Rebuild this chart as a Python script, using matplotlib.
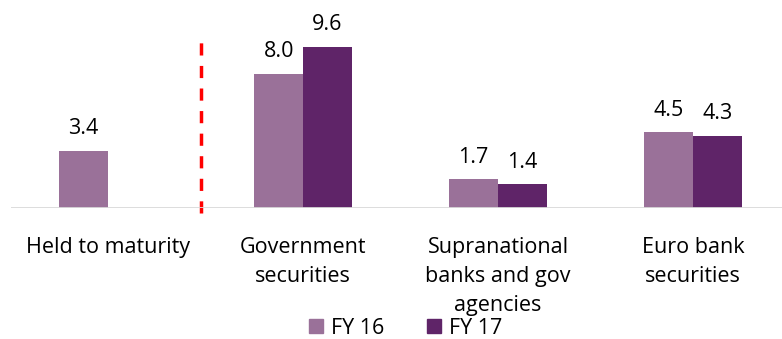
import numpy as np
import matplotlib.pyplot as plt
from matplotlib.lines import Line2D

plt.rcParams['font.family'] = ['Open Sans', 'DejaVu Sans']

categories = ['Held to maturity', 'Government\nsecurities',
              'Supranational\nbanks and gov\nagencies', 'Euro bank\nsecurities']
fy16 = [3.4, 8.0, 1.7, 4.5]
fy17 = [np.nan, 9.6, 1.4, 4.3]
series = ['FY 16', 'FY 17']
colors = ['#9A7199', '#5F2468']

fig = plt.figure(figsize=(7.82, 3.39), dpi=100)
ax = fig.add_axes([10.5 / 782, 1 - 208 / 339, 1 - 10.5 / 782, 208 / 339])

x = np.arange(len(categories))
w = 0.25
for vals, off, c in [(fy16, -w / 2, colors[0]), (fy17, w / 2, colors[1])]:
    for xi, v in zip(x, vals):
        if np.isnan(v):
            continue
        ax.bar(xi + off, v, w, color=c, linewidth=0)
        ax.annotate(f'{v:.1f}', (xi + off, v), xytext=(0, 8.5), textcoords='offset points',
                    ha='center', va='bottom', fontsize=15.5)

ax.set_xlim(-0.5, 3.456)
ax.set_ylim(0, 12.38)

# separator between held-to-maturity and the rest
ax.plot([0.477, 0.477], [-0.3, 10.1], color='#FF0000', lw=2.5,
        linestyle=(0, (3.5, 3)), clip_on=False)

ax.axhline(0, color='#D9D9D9', lw=2)
for s in ax.spines.values():
    s.set_visible(False)
ax.set_yticks([])
ax.set_xticks(x)
ax.set_xticklabels(categories, fontsize=15.5, linespacing=1.5, va='top')
ax.tick_params(axis='x', length=0, pad=21)

handles = [Line2D([], [], marker='s', linestyle='none', markersize=10,
                  markerfacecolor=c, markeredgecolor=c) for c in colors]
fig.legend(handles, series, loc='center', bbox_to_anchor=(405 / 782, 1 - 328 / 339),
           ncol=2, frameon=False, fontsize=15.5, handletextpad=0.3, columnspacing=1.9,
           handlelength=0.8, borderaxespad=0)

fig.savefig('out.png', dpi=100)
